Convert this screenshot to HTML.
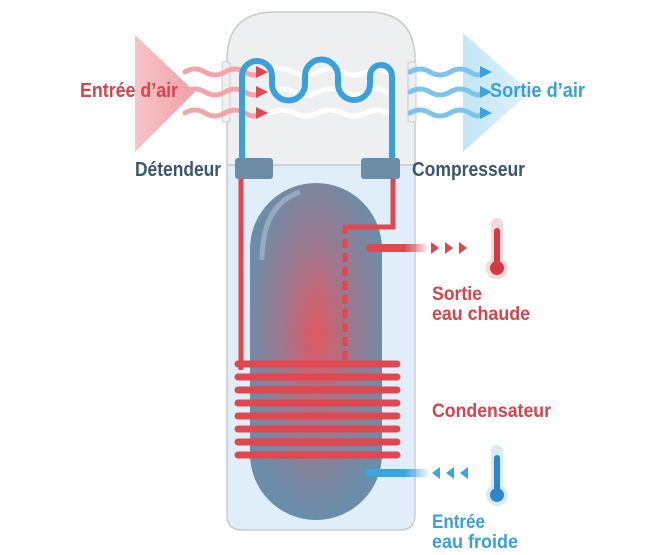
<!DOCTYPE html>
<html><head><meta charset="utf-8"><style>
html,body{margin:0;padding:0;background:#fff;width:666px;height:555px;overflow:hidden}
text{font-family:"Liberation Sans",sans-serif;font-weight:bold}
</style></head><body>
<svg width="666" height="555" viewBox="0 0 666 555" xmlns="http://www.w3.org/2000/svg">
<defs>
<radialGradient id="tg" cx="0.5" cy="0.45" r="0.55">
<stop offset="0" stop-color="#e25862"/><stop offset="0.5" stop-color="#9a7a90"/><stop offset="1" stop-color="#6a8ea9"/>
</radialGradient>
<linearGradient id="rt" x1="0" x2="1"><stop offset="0" stop-color="#f7c4c8"/><stop offset="1" stop-color="#f0a0a6"/></linearGradient>
<linearGradient id="bt" x1="0" x2="1"><stop offset="0" stop-color="#c4e6f6"/><stop offset="1" stop-color="#dff1fa"/></linearGradient>
<linearGradient id="hp" x1="0" x2="1"><stop offset="0.6" stop-color="#e0474f"/><stop offset="1" stop-color="#e0474f" stop-opacity="0"/></linearGradient>
<linearGradient id="cp" x1="0" x2="1"><stop offset="0.6" stop-color="#3aa6e0"/><stop offset="1" stop-color="#3aa6e0" stop-opacity="0"/></linearGradient>
</defs>
<polygon points="135,35 195,92 135,152" fill="url(#rt)"/>
<polygon points="463,33 530,92 463,152" fill="url(#bt)"/>
<path d="M227,165 V60 Q227,12 275,12 H367 Q415,12 415,60 V165 Z" fill="#eeeff1" stroke="#c8ccd0" stroke-width="1.5"/>
<path d="M227,165 H415 V515 Q415,530 400,530 H242 Q227,530 227,515 Z" fill="#dfeef8" stroke="#c8ccd0" stroke-width="1.5"/>
<rect x="222" y="62" width="8" height="60" rx="2" fill="#eeeff1" stroke="#c8ccd0"/>
<rect x="408" y="62" width="8" height="60" rx="2" fill="#eeeff1" stroke="#c8ccd0"/>
<rect x="250" y="183" width="132" height="337" rx="66" fill="url(#tg)"/>
<path d="M262,260 Q262,205 300,192" stroke="#a9c3d6" stroke-width="5" fill="none" opacity="0.6"/>
<path d="M241,170 V370" stroke="#e0474f" stroke-width="5" fill="none"/>
<path d="M393,170 V227 H347" stroke="#e0474f" stroke-width="5" fill="none"/>
<path d="M345,225 V362" stroke="#e0474f" stroke-width="5" fill="none" stroke-dasharray="9,5"/>
<g stroke="#e0474f" stroke-width="7" stroke-linecap="round">
<line x1="238" y1="364" x2="397" y2="364"/><line x1="238" y1="377" x2="397" y2="377"/>
<line x1="238" y1="390" x2="397" y2="390"/><line x1="238" y1="403" x2="397" y2="403"/>
<line x1="238" y1="416" x2="397" y2="416"/><line x1="238" y1="429" x2="397" y2="429"/>
<line x1="238" y1="442" x2="397" y2="442"/><line x1="238" y1="455" x2="397" y2="455"/>
</g>
<rect x="366" y="244" width="64" height="8" rx="4" fill="url(#hp)"/>
<g fill="#e0474f"><polygon points="431,242 439,248 431,254"/><polygon points="445,242 453,248 445,254"/><polygon points="459,242 467,248 459,254"/></g>
<rect x="366" y="469" width="64" height="8" rx="4" fill="url(#cp)"/>
<g fill="#3aa6e0"><polygon points="440,467 432,473 440,479"/><polygon points="454,467 446,473 454,479"/><polygon points="468,467 460,473 468,479"/></g>
<g><rect x="491" y="218" width="12" height="48" rx="6" fill="#f6dadb"/><circle cx="497" cy="268" r="11" fill="#f6dadb"/>
<rect x="494" y="228" width="6" height="36" rx="3" fill="#d23a44"/><circle cx="497" cy="268" r="7" fill="#d23a44"/></g>
<g><rect x="491" y="445" width="12" height="48" rx="6" fill="#d8ecf7"/><circle cx="497" cy="495" r="11" fill="#d8ecf7"/>
<rect x="494" y="455" width="6" height="36" rx="3" fill="#2e86c8"/><circle cx="497" cy="495" r="7" fill="#2e86c8"/></g>
<g fill="none" stroke-width="5" stroke-linecap="round">
<path d="M185,72 q10,-6 20,0 t20,0 t20,0 t15,0" stroke="#f2a4a9"/>
<path d="M185,92 q10,-6 20,0 t20,0 t20,0 t15,0" stroke="#f2a4a9"/>
<path d="M185,113 q10,-6 20,0 t20,0 t20,0 t15,0" stroke="#f2a4a9"/>
<path d="M270,72 q12,-6 24,0 t24,0 t24,0 t24,0 t20,0" stroke="#ffffff"/>
<path d="M270,92 q12,-6 24,0 t24,0 t24,0 t24,0 t20,0" stroke="#ffffff"/>
<path d="M270,113 q12,-6 24,0 t24,0 t24,0 t24,0 t20,0" stroke="#ffffff"/>
<path d="M410,72 q10,-6 20,0 t20,0 t20,0 t12,0" stroke="#7cc4ea"/>
<path d="M410,92 q10,-6 20,0 t20,0 t20,0 t12,0" stroke="#7cc4ea"/>
<path d="M410,113 q10,-6 20,0 t20,0 t20,0 t12,0" stroke="#7cc4ea"/>
</g>
<g fill="#e0474f"><polygon points="256,66 268,72 256,78"/><polygon points="256,86 268,92 256,98"/><polygon points="256,107 268,113 256,119"/></g>
<g fill="#3aa6e0"><polygon points="480,66 492,72 480,78"/><polygon points="480,86 492,92 480,98"/><polygon points="480,107 492,113 480,119"/></g>
<path d="M242,165 V76 A15,15 0 0 1 272,76 V84 A16.5,16.5 0 0 0 305,84 V76 A16.5,16.5 0 0 1 338,76 V84 A16,16 0 0 0 370,84 V76 A11,11 0 0 1 392,76 V165" fill="none" stroke="#3aa0dc" stroke-width="6"/>
<rect x="235" y="158" width="38" height="21" rx="3" fill="#6d8ca5"/>
<rect x="361" y="158" width="39" height="21" rx="3" fill="#6d8ca5"/>
<text x="80" y="97" font-size="20" fill="#d8434c" textLength="98" lengthAdjust="spacingAndGlyphs">Entrée d’air</text>
<text x="490" y="97" font-size="20" fill="#3aa0dc" textLength="95" lengthAdjust="spacingAndGlyphs">Sortie d’air</text>
<text x="135" y="176" font-size="20" fill="#3b5670" textLength="86" lengthAdjust="spacingAndGlyphs">Détendeur</text>
<text x="412" y="176" font-size="20" fill="#3b5670" textLength="113" lengthAdjust="spacingAndGlyphs">Compresseur</text>
<text x="432" y="300" font-size="19" fill="#d8434c" textLength="50" lengthAdjust="spacingAndGlyphs">Sortie</text>
<text x="432" y="320" font-size="19" fill="#d8434c" textLength="98" lengthAdjust="spacingAndGlyphs">eau chaude</text>
<text x="432" y="417" font-size="19" fill="#d8434c" textLength="119" lengthAdjust="spacingAndGlyphs">Condensateur</text>
<text x="432" y="528" font-size="19" fill="#3aa0dc" textLength="53" lengthAdjust="spacingAndGlyphs">Entrée</text>
<text x="432" y="548" font-size="19" fill="#3aa0dc" textLength="86" lengthAdjust="spacingAndGlyphs">eau froide</text>
</svg>
</body></html>
